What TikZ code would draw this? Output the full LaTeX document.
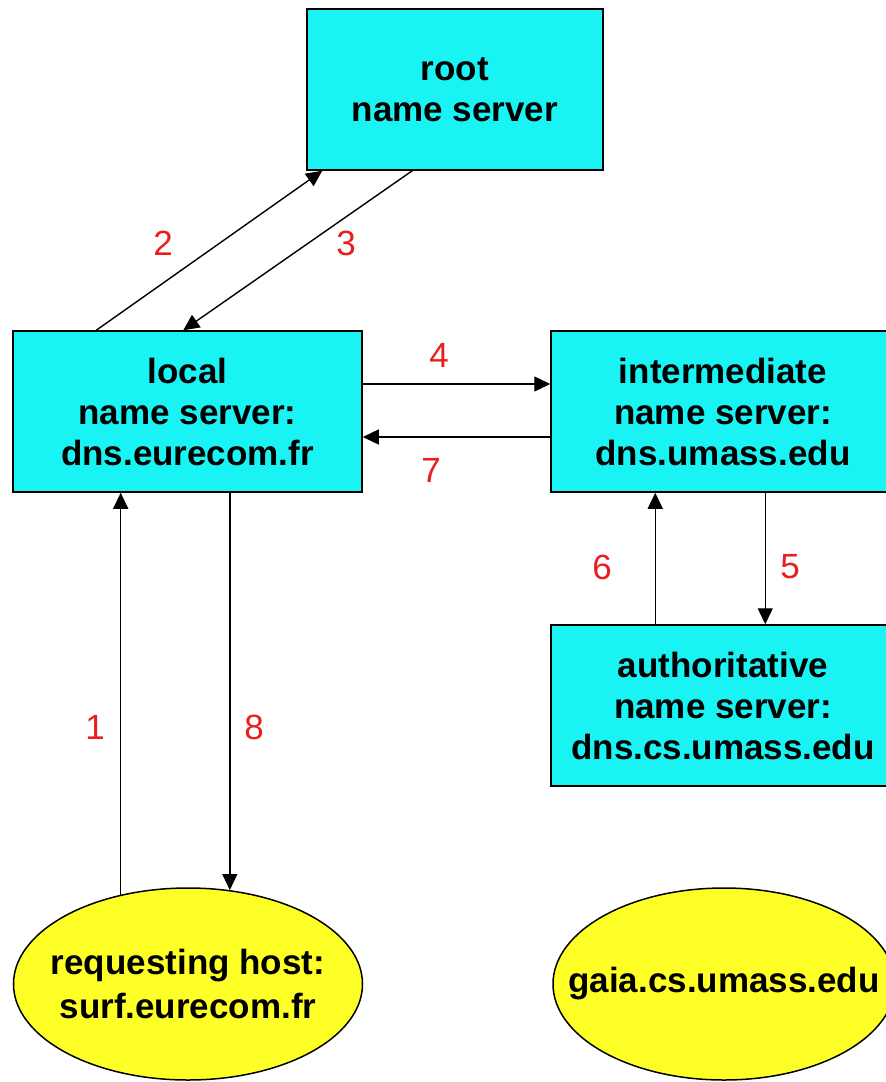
\documentclass[tikz,border=0pt]{standalone}
\usepackage{fontspec}
\setmainfont{Liberation Sans}
\usetikzlibrary{shapes.geometric,arrows.meta}
\definecolor{boxcyan}{RGB}{26,243,243}
\definecolor{hostyellow}{RGB}{255,255,40}
\definecolor{numred}{RGB}{235,30,30}
\tikzset{
  server/.style={draw=black, line width=1.5pt, fill=boxcyan, rectangle, inner sep=0pt,
    align=center, font=\fontsize{35}{41}\selectfont\bfseries},
  host/.style={draw=black, line width=1.5pt, fill=hostyellow, ellipse, inner ysep=0pt, inner xsep=-60pt,
    align=center, font=\fontsize{35}{44}\selectfont\bfseries},
  conn/.style={line width=1.4pt, -{Triangle[length=16pt,width=15pt]}},
  num/.style={text=numred, font=\fontsize{35}{41}\selectfont, inner sep=0pt}
}
\begin{document}
\begin{tikzpicture}[x=1pt,y=-1pt]
\clip (0,0) rectangle (886,1082);
\fill[white] (0,0) rectangle (886,1082);
\node[server, minimum width=296pt, minimum height=161pt] (root) at (455,89.5) {root\\name server};
\node[server, minimum width=349pt, minimum height=161pt] (local) at (187.5,411.5) {local\\name server:\\dns.eurecom.fr};
\node[server, minimum width=344pt, minimum height=161pt] (inter) at (723,411.5) {intermediate\\name server:\\dns.umass.edu};
\node[server, minimum width=344pt, minimum height=161pt] (auth) at (723,705.5) {authoritative\\name server:\\dns.cs.umass.edu};
\node[host, minimum width=349pt, minimum height=192pt] (req) at (188,984) {requesting host:\\surf.eurecom.fr};
\node[host, minimum width=342pt, minimum height=192pt] (gaia) at (724,984) {gaia.cs.umass.edu};

% connectors
\draw[conn] ([xshift=84pt]local.north west) -- ([xshift=16pt]root.south west);
\draw[conn] ([xshift=106pt]root.south west) -- ([xshift=171pt]local.north west);
\draw[conn] ([yshift=27.5pt]local.east) -- ([yshift=27.5pt]inter.west);
\draw[conn] ([yshift=-25.5pt]inter.west) -- ([yshift=-25.5pt]local.east);
\draw[conn] ([xshift=215pt]inter.south west) -- ([xshift=215pt]auth.north west);
\draw[conn] ([xshift=105pt]auth.north west) -- ([xshift=105pt]inter.south west);
\draw[conn] (req.127) -- (req.127 |- local.south);
\draw[conn] (req.66.8 |- local.south) -- (req.66.8);

% numbers
\node[num] (n1) at (95,727) {1};
\node[num] (n2) at (163,243) {2};
\node[num] (n3) at (346,243) {3};
\node[num] (n4) at (439,355) {4};
\node[num] (n5) at (790,567) {5};
\node[num] (n6) at (602,567) {6};
\node[num] (n7) at (431,470) {7};
\node[num] (n8) at (254,727) {8};
\end{tikzpicture}
\end{document}
